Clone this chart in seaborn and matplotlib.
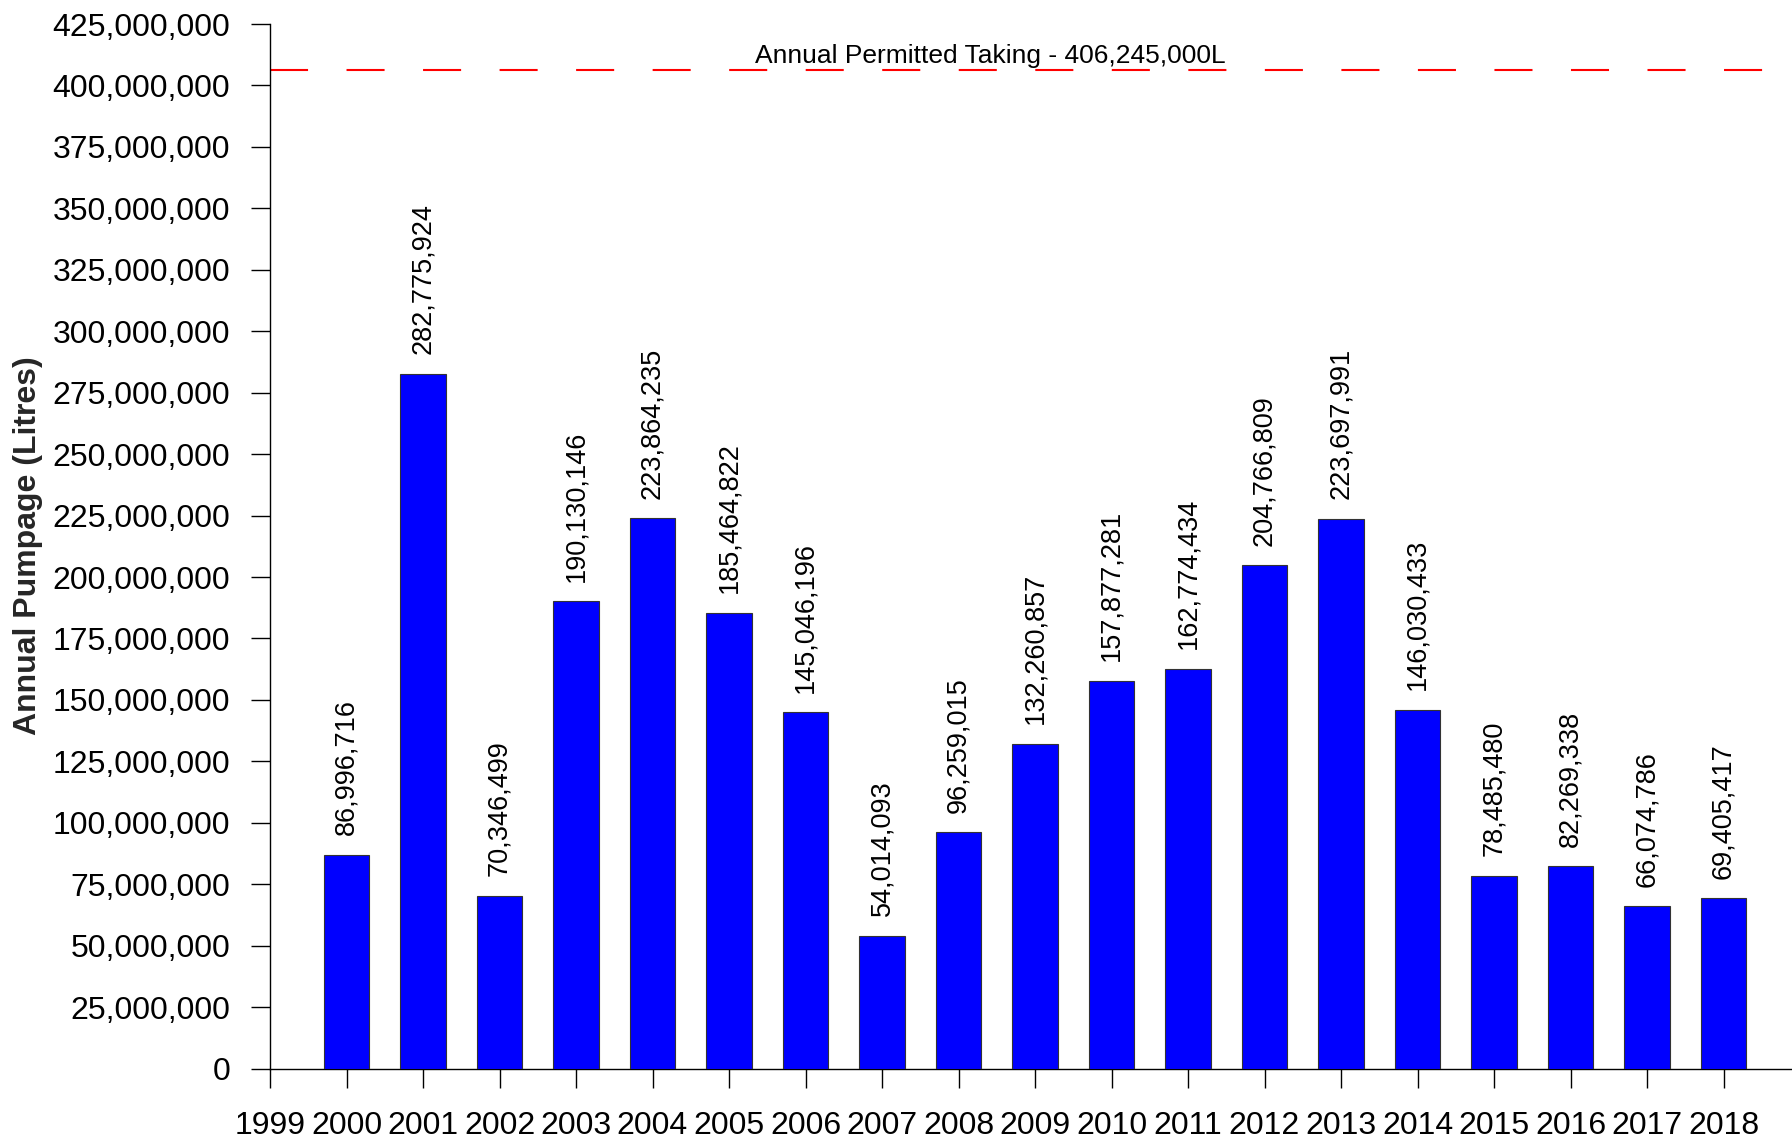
import matplotlib
matplotlib.use("Agg")
import matplotlib.pyplot as plt
import seaborn as sns
import pandas as pd

# Annual pumpage per year (litres)
years = [2000, 2001, 2002, 2003, 2004, 2005, 2006, 2007, 2008, 2009,
         2010, 2011, 2012, 2013, 2014, 2015, 2016, 2017, 2018]
pumpage = [86996716, 282775924, 70346499, 190130146, 223864235, 185464822,
           145046196, 54014093, 96259015, 132260857, 157877281, 162774434,
           204766809, 223697991, 146030433, 78485480, 82269338, 66074786,
           69405417]
permitted_taking = 406245000
permit_label = "Annual Permitted Taking - 406,245,000L"
y_label = "Annual Pumpage (Litres)"
x_ticks = list(range(1999, 2019))
y_ticks = list(range(0, 425000001, 25000000))

sns.set_style("ticks")
plt.rcParams["font.family"] = ["Liberation Sans", "DejaVu Sans"]
plt.rcParams["lines.scale_dashes"] = False

df = pd.DataFrame({"Year": years, "Pumpage": pumpage})

fig = plt.figure(figsize=(17.92, 11.40), dpi=100)
ax = fig.add_axes([270 / 1792, 1 - 1068.6 / 1140, 1 - 270 / 1792,
                   (1068.6 - 24) / 1140])

sns.barplot(data=df, x="Year", y="Pumpage", native_scale=True, width=0.6,
            color="#0000FF", saturation=1, edgecolor="#333333", linewidth=0.8,
            errorbar=None, ax=ax, zorder=3)

# value labels above each bar
for yr, v in zip(years, pumpage):
    ax.annotate(f"{v:,}", (yr, v), xytext=(0, 14), textcoords="offset points",
                rotation=90, ha="center", va="bottom", fontsize=19.5,
                color="black")

# permitted taking limit
ax.axhline(permitted_taking, color="#FF0000", linewidth=1.5,
           linestyle=(0, (27.4, 27.7)), zorder=2)
ax.annotate(permit_label, (2008.41, permitted_taking), xytext=(0, 5),
            textcoords="offset points", ha="center", va="baseline",
            fontsize=19, color="black")

ax.set_xlim(1999, 1999 + (1792 - 270) / 76.5)
ax.set_ylim(0, 425000000)
ax.set_xticks(x_ticks)
ax.set_xticklabels([str(t) for t in x_ticks])
ax.set_yticks(y_ticks)
ax.set_yticklabels([f"{t:,}" for t in y_ticks])
ax.set_xlabel("")
ax.set_ylabel("")

for side in ("top", "right"):
    ax.spines[side].set_visible(False)
for side in ("left", "bottom"):
    ax.spines[side].set_linewidth(1.0)
    ax.spines[side].set_color("black")

ax.tick_params(axis="y", length=13.7, width=1.0, pad=15, labelsize=23,
               colors="black")
ax.tick_params(axis="x", length=13.7, width=1.0, pad=17, labelsize=23,
               colors="black")

fig.text(28.5 / 1792, 1 - 546 / 1140, y_label, rotation=90, ha="center",
         va="center", fontsize=23, fontweight="bold")

fig.savefig("out.png", dpi=100, facecolor="white")
